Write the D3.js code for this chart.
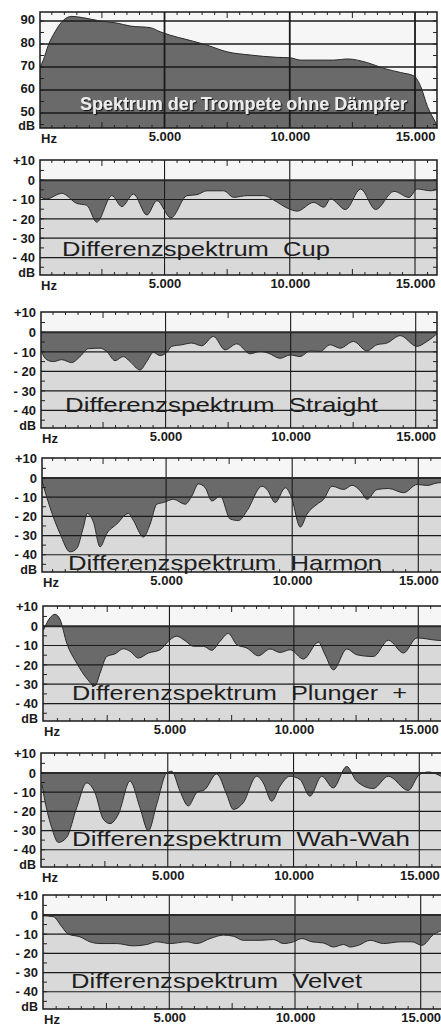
<!DOCTYPE html>
<html>
<head>
<meta charset="utf-8">
<script src="https://cdn.jsdelivr.net/npm/d3@7"></script>
<style>
  html, body { margin: 0; padding: 0; background: #fff; }
  svg { display: block; }
  text { font-family: "Liberation Sans", Arial, sans-serif; }
</style>
</head>
<body>
<div id="chart"></div>
<script>
// spectrum of the open trumpet (Hz, dB)
const hzOpen = [28, 160, 360, 628, 960, 1296, 1760, 2428, 3096, 3628, 4428, 4828, 5228, 5896, 6696, 7496, 8428, 9496, 10028, 10428, 11760, 12296, 13096, 13760, 14428, 14960, 15228, 15496, 15828, 15950];
const dbOpen = [70, 73, 79.5, 85.3, 90.3, 92, 91.4, 90, 89.1, 87.8, 87.1, 85.3, 83.8, 81.9, 79.5, 76.6, 75.2, 74.2, 74, 73, 73, 73.5, 71.9, 69.4, 67.6, 66.1, 61.5, 52.9, 45.7, 43];

// difference spectra (dB relative to open trumpet)
const hzCup = [0, 296, 895, 1495, 1895, 2295, 2895, 3295, 3760, 4295, 4695, 5255, 5895, 6295, 6695, 7360, 7760, 8295, 8960, 9360, 9895, 10295, 10960, 11360, 11628, 12228, 12828, 13428, 14160, 14760, 15095, 15628, 15950];
const dbCup = [-8.5, -9.7, -6.8, -12, -13, -21.7, -8, -13.7, -7.2, -18, -10.6, -19.5, -8, -7.5, -5.5, -5.5, -8.9, -8, -8, -10.3, -14.4, -16, -11.5, -14, -9.7, -15.2, -4.6, -15.2, -5.8, -8.9, -4.6, -5.5, -4.2];

const hzStraight = [0, 247, 513, 847, 1247, 1580, 1913, 2380, 2647, 2980, 3313, 3580, 3980, 4247, 4513, 4780, 5047, 5247, 5647, 6047, 6447, 6913, 7380, 7847, 8380, 8780, 9113, 9580, 9980, 10380, 10780, 11180, 11580, 11980, 12513, 13047, 13447, 13847, 14380, 15047, 15447, 15900];
const dbStraight = [-9, -14, -15, -14, -15.5, -12.4, -8.4, -8.1, -9.8, -14.5, -12.4, -15, -19.3, -15, -10.3, -11.9, -10.3, -7.2, -6.4, -5.5, -6.9, -2.1, -9, -5.9, -11, -9.8, -10.7, -13.3, -11.6, -12.4, -9.5, -9.8, -6.4, -8.1, -4.7, -9.5, -6.4, -5.5, -1.7, -7.2, -4.7, -0.2];

const hzHarmon = [66, 397, 794, 1190, 1456, 1720, 1878, 2117, 2382, 2647, 3045, 3506, 3704, 4101, 4367, 4632, 4895, 5292, 5757, 6022, 6284, 6550, 6816, 7146, 7543, 7872, 8206, 8801, 9000, 9329, 9726, 9952, 10322, 10588, 10985, 11247, 11580, 12041, 12374, 12704, 12970, 13367, 13827, 14422, 14955, 15352, 15749, 16000];
const dbHarmon = [-0.9, -15.4, -29, -38.5, -36.8, -25.6, -18.5, -23, -35.9, -29, -24, -18.5, -22.2, -30.8, -24, -13.7, -12.8, -11.1, -13.7, -9.4, -3.1, -5.1, -12, -9.4, -21.4, -22.2, -17.1, -4.3, -6, -12.8, -5.1, -9.4, -25.6, -18.8, -13.7, -11.1, -4.3, -6, -3.8, -6.8, -11.1, -6, -5.5, -7.7, -3.4, -3.9, -2.6, -2.4];

const hzPlunger = [-60, 201, 402, 603, 872, 1274, 1676, 2010, 2211, 2480, 2814, 3148, 3417, 3751, 4153, 4623, 5025, 5294, 5628, 5962, 6364, 6701, 7035, 7369, 7706, 8108, 8575, 9045, 9447, 9849, 10385, 10987, 11256, 11590, 12128, 12530, 13197, 13800, 14403, 14943, 15746, 16000];
const dbPlunger = [-2, 4.3, 6.1, 3.5, -8.7, -19.1, -27, -30.8, -24.3, -15.7, -14.3, -11.7, -13, -16.5, -13.9, -12.2, -7, -5.2, -7.5, -10.4, -10.4, -12.5, -7.8, -3.8, -9.6, -11.3, -15.3, -11.8, -13.6, -12.2, -17, -8.3, -14.8, -22.6, -11.8, -14.8, -15.7, -7.3, -13.9, -6.1, -7.3, -7.5];

const hzWah = [0, 119, 384, 649, 980, 1378, 1775, 2107, 2437, 2703, 3034, 3498, 3896, 4226, 4559, 4957, 5156, 5486, 5816, 6149, 6479, 6944, 7342, 7604, 8002, 8534, 8797, 9131, 9461, 9858, 10256, 10653, 11118, 11580, 12112, 12510, 13170, 13766, 14560, 14998, 15356, 16000];
const dbWah = [-6, -14.7, -28.4, -36.2, -33.6, -18.1, -5.2, -10.3, -24.1, -26.4, -21.6, -4.3, -18.1, -30.2, -16.4, 0, 0.9, -9.5, -17.2, -10.3, -8.6, -0.5, -11.2, -19, -15.5, -1.7, -5.2, -14.7, -6.9, -1.7, -3.4, -12.1, -1.7, -7.8, 3.4, -4.3, -8.1, -1.7, -9.1, -0.9, 0.5, -2.8];

const hzVelvet = [-60, 386, 720, 983, 1449, 1847, 2245, 2909, 3570, 4103, 4501, 5031, 5695, 6093, 6623, 7152, 7550, 7948, 8613, 9142, 9540, 9938, 10272, 10670, 11132, 11530, 11928, 12195, 12525, 12991, 13520, 14185, 14651, 15049, 15510, 16000];
const dbVelvet = [-0.4, -0.9, -6.1, -10, -11.4, -14, -14.9, -14.9, -16.1, -15.4, -14, -14.9, -14, -14.9, -12.3, -10.5, -11.1, -13.2, -13.2, -12.8, -14.9, -14, -12.3, -14, -14.6, -16.7, -15.4, -16.7, -15.8, -13.2, -14.9, -14, -14, -15.8, -10.2, -7.5];

const titles = [
  "Spektrum der Trompete ohne Dämpfer",
  "Differenzspektrum  Cup",
  "Differenzspektrum  Straight",
  "Differenzspektrum  Harmon",
  "Differenzspektrum  Plunger  +",
  "Differenzspektrum  Wah-Wah",
  "Differenzspektrum  Velvet"
];

const xTickValues = [5000, 10000, 15000];
const xTickLabels = ["5.000", "10.000", "15.000"];
const yTicksOpen = [90, 80, 70, 60, 50];
const yTicksDiff = [10, 0, -10, -20, -30, -40];
const yLabelsDiff = ["+10", "0", "- 10", "- 20", "- 30", "- 40"];

const series = [
  [hzOpen, dbOpen], [hzCup, dbCup], [hzStraight, dbStraight], [hzHarmon, dbHarmon],
  [hzPlunger, dbPlunger], [hzWah, dbWah], [hzVelvet, dbVelvet]
];

// where each panel sits on the page (the source scan is a bit uneven)
const layout = [
  {top: 12, bottom: 128, left: 40, right: 437, x0: 39.3, x15: 415, label: [80, 110, 327]},
  {top: 160, bottom: 275, left: 40, right: 437, x0: 39.3, x15: 415, label: [62, 256, 268]},
  {top: 312, bottom: 428, left: 41, right: 437, x0: 40.5, x15: 415.7, label: [65, 412, 313]},
  {top: 458, bottom: 572, left: 42, right: 447, x0: 40, x15: 418.3, label: [68, 570, 314]},
  {top: 606, bottom: 721, left: 43, right: 447, x0: 45, x15: 418.3, label: [72, 700, 335]},
  {top: 753, bottom: 867, left: 41, right: 447, x0: 42, x15: 419.3, label: [72, 846, 338]},
  {top: 895, bottom: 1009, left: 43, right: 447, x0: 43.6, x15: 420.7, label: [71, 988, 291]}
];

const svg = d3.select('#chart')
  .append('svg')
  .attr('width', 441)
  .attr('height', 1028);

const defs = svg.append('defs');
const shadow = defs.append('filter').attr('id', 'shadow')
  .attr('x', '-5%').attr('y', '-20%').attr('width', '110%').attr('height', '140%');
shadow.append('feDropShadow')
  .attr('dx', 1.2).attr('dy', 1.2).attr('stdDeviation', 0.6)
  .attr('flood-color', '#111').attr('flood-opacity', 0.9);

layout.forEach((p, i) => {
  const isOpen = i === 0;
  const [hz, db] = series[i];
  const data = hz.map((h, k) => ({hz: h, db: db[k]}));

  const x = d3.scaleLinear().domain([0, 15000]).range([p.x0, p.x15]);
  const y = isOpen
    ? d3.scaleLinear().domain([43.5, 93.9]).range([p.bottom, p.top])
    : d3.scaleLinear().domain([-49, 10.4]).range([p.bottom, p.top]);

  const g = svg.append('g').attr('class', 'panel');

  const clipId = 'clip' + i;
  defs.append('clipPath').attr('id', clipId)
    .append('rect')
    .attr('x', p.left).attr('y', p.top)
    .attr('width', p.right - p.left).attr('height', p.bottom - p.top);

  const plot = g.append('g').attr('clip-path', `url(#${clipId})`);

  // backgrounds
  plot.append('rect')
    .attr('x', p.left).attr('y', p.top)
    .attr('width', p.right - p.left).attr('height', p.bottom - p.top)
    .attr('fill', '#f6f6f6');
  if (!isOpen) {
    plot.append('rect')
      .attr('x', p.left).attr('y', y(0))
      .attr('width', p.right - p.left).attr('height', p.bottom - y(0))
      .attr('fill', '#d9d9d9');
  }

  const curve = d3.curveMonotoneX;
  const area = d3.area()
    .x(d => x(d.hz))
    .y0(isOpen ? p.bottom : y(0))
    .y1(d => y(d.db))
    .curve(curve);
  const line = d3.line()
    .x(d => x(d.hz))
    .y(d => y(d.db))
    .curve(curve);

  plot.append('path')
    .datum(data)
    .attr('fill', '#6a6a6a')
    .attr('d', area);

  // grid
  const gridY = isOpen ? yTicksOpen : yTicksDiff.filter(v => v < 10 && v !== 0);
  plot.selectAll('.hgrid')
    .data(gridY)
    .join('line')
    .attr('x1', p.left).attr('x2', p.right)
    .attr('y1', d => y(d)).attr('y2', d => y(d))
    .attr('stroke', '#1a1a1a')
    .attr('stroke-width', isOpen ? 1.5 : 1.2);

  plot.selectAll('.vgrid')
    .data(xTickValues)
    .join('line')
    .attr('x1', d => x(d)).attr('x2', d => x(d))
    .attr('y1', p.top).attr('y2', p.bottom)
    .attr('stroke', '#1a1a1a')
    .attr('stroke-width', isOpen ? 1.8 : 1.1);

  plot.append('path')
    .datum(data)
    .attr('fill', 'none')
    .attr('stroke', '#2a2a2a')
    .attr('stroke-width', 1)
    .attr('d', line);

  if (!isOpen) {
    plot.append('line')
      .attr('x1', p.left).attr('x2', p.right)
      .attr('y1', y(0)).attr('y2', y(0))
      .attr('stroke', '#2a2a2a')
      .attr('stroke-width', 2);
  }

  // minor ticks along the frame
  const hzMinor = d3.range(500, 16000, 500).filter(v => v % 5000 !== 0);
  const tickLen = v => (v % 5000 === 2500 ? 6 : 3);
  plot.selectAll('.tt')
    .data(hzMinor)
    .join('line')
    .attr('x1', d => x(d)).attr('x2', d => x(d))
    .attr('y1', p.top).attr('y2', d => p.top + tickLen(d))
    .attr('stroke', '#222').attr('stroke-width', 1);
  plot.selectAll('.bt')
    .data(hzMinor)
    .join('line')
    .attr('x1', d => x(d)).attr('x2', d => x(d))
    .attr('y1', p.bottom).attr('y2', d => p.bottom - tickLen(d))
    .attr('stroke', '#222').attr('stroke-width', 1);
  const dbMinor = isOpen ? d3.range(45, 95, 5) : d3.range(-45, 10, 5);
  plot.selectAll('.lt')
    .data(dbMinor)
    .join('line')
    .attr('x1', p.left).attr('x2', p.left + 4)
    .attr('y1', d => y(d)).attr('y2', d => y(d))
    .attr('stroke', '#222').attr('stroke-width', 1);
  plot.selectAll('.rt')
    .data(dbMinor)
    .join('line')
    .attr('x1', p.right).attr('x2', p.right - 4)
    .attr('y1', d => y(d)).attr('y2', d => y(d))
    .attr('stroke', '#222').attr('stroke-width', 1);

  // frame
  g.append('rect')
    .attr('x', p.left).attr('y', p.top)
    .attr('width', p.right - p.left).attr('height', p.bottom - p.top)
    .attr('fill', 'none')
    .attr('stroke', '#1a1a1a')
    .attr('stroke-width', 1.5);

  // panel caption
  const cap = g.append('text')
    .attr('x', p.label[0])
    .attr('y', p.label[1])
    .attr('textLength', p.label[2])
    .attr('lengthAdjust', 'spacingAndGlyphs')
    .style('white-space', 'pre')
    .text(titles[i]);
  if (isOpen) {
    cap.attr('font-size', 18).attr('font-weight', 'bold')
      .attr('fill', '#ececec').attr('filter', 'url(#shadow)');
  } else {
    cap.attr('font-size', 21).attr('fill', '#1e1e1e');
  }

  // axes labels
  const yAxis = d3.axisLeft(y)
    .tickValues(isOpen ? yTicksOpen : yTicksDiff)
    .tickSize(0)
    .tickPadding(0)
    .tickFormat((d, k) => isOpen ? d : yLabelsDiff[k]);
  const ya = g.append('g')
    .attr('transform', `translate(${p.left - 5},${isOpen ? -2 : 0})`)
    .call(yAxis);
  ya.select('.domain').remove();
  ya.selectAll('text')
    .attr('font-size', 13)
    .attr('font-weight', 'bold')
    .attr('fill', '#1a1a1a')
    .style('white-space', 'pre');

  g.append('text')
    .attr('x', p.left - 5).attr('y', p.bottom + 2)
    .attr('text-anchor', 'end')
    .attr('font-size', 12.5).attr('font-weight', 'bold').attr('fill', '#1a1a1a')
    .text('dB');

  const xAxis = d3.axisBottom(x)
    .tickValues(xTickValues)
    .tickSize(0)
    .tickPadding(4)
    .tickFormat((d, k) => xTickLabels[k]);
  const xa = g.append('g')
    .attr('transform', `translate(0,${p.bottom})`)
    .call(xAxis);
  xa.select('.domain').remove();
  xa.selectAll('text')
    .attr('font-size', 13)
    .attr('font-weight', 'bold')
    .attr('fill', '#1a1a1a');

  g.append('text')
    .attr('x', p.left + 1).attr('y', p.bottom + 15)
    .attr('font-size', 13).attr('font-weight', 'bold').attr('fill', '#1a1a1a')
    .text('Hz');
});
</script>
</body>
</html>
